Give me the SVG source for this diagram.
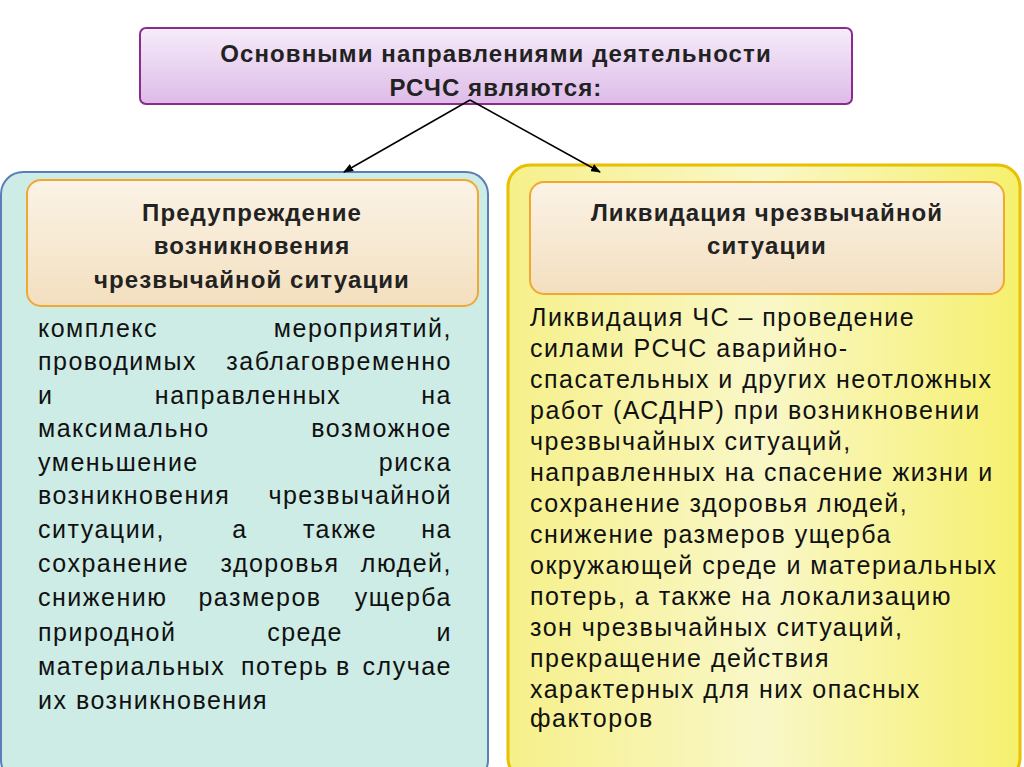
<svg xmlns="http://www.w3.org/2000/svg" width="1024" height="767" viewBox="0 0 1024 767">
<defs>
<linearGradient id="gp" x1="0" y1="0" x2="0" y2="1"><stop offset="0" stop-color="#f6ecfa"/><stop offset="1" stop-color="#ddbbe8"/></linearGradient>
<linearGradient id="gb" x1="0" y1="0" x2="0" y2="1"><stop offset="0" stop-color="#fbf3e6"/><stop offset="1" stop-color="#f3dfbf"/></linearGradient>
<linearGradient id="gy" x1="0" y1="0" x2="1" y2="0"><stop offset="0" stop-color="#f6f08a"/><stop offset="0.5" stop-color="#f9f7c8"/><stop offset="1" stop-color="#f6f06e"/></linearGradient>
<marker id="ar" markerWidth="10" markerHeight="8" refX="9" refY="4" orient="auto" markerUnits="userSpaceOnUse"><path d="M0,0 L10,4 L0,8 z" fill="#000"/></marker>
<style>
.h{font-family:"Liberation Sans",Arial,sans-serif;font-weight:bold;font-size:24px;letter-spacing:1.1px;fill:#222;text-anchor:middle}
.b{font-family:"Liberation Sans",Arial,sans-serif;font-size:25px;letter-spacing:1.5px;fill:#111}
.m{text-anchor:middle}.e{text-anchor:end}
</style>
</defs>
<rect width="1024" height="767" fill="#fff"/>
<g id="left-panel"><rect x="1" y="172" width="487" height="610" rx="22" fill="#cdece6" stroke="#5a7fb8" stroke-width="2"/></g>
<g id="right-panel"><rect x="508" y="165" width="512" height="615" rx="22" fill="url(#gy)" stroke="#e8c000" stroke-width="3"/></g>
<g id="top"><rect x="140" y="28" width="712" height="76" rx="6" fill="url(#gp)" stroke="#8a2c8a" stroke-width="2"/>
<text class="h" x="496" y="62">Основными направлениями деятельности</text>
<text class="h" x="496" y="96">РСЧС являются:</text></g>
<g id="connectors" stroke="#000" stroke-width="1.5" fill="none">
<line x1="470" y1="100" x2="344" y2="172" marker-end="url(#ar)"/>
<line x1="470" y1="100" x2="600" y2="172" marker-end="url(#ar)"/>
</g>
<g id="left-head"><rect x="27" y="180" width="451" height="126" rx="14" fill="url(#gb)" stroke="#f0a830" stroke-width="2"/>
<text class="h" x="252" y="221">Предупреждение</text>
<text class="h" x="252" y="254">возникновения</text>
<text class="h" x="252" y="288">чрезвычайной ситуации</text></g>
<g id="left-body">
<text class="b" x="38" y="337">комплекс</text><text class="b e" x="452" y="337">мероприятий,</text>
<text class="b" x="38" y="370">проводимых</text><text class="b e" x="452" y="370">заблаговременно</text>
<text class="b" x="38" y="404">и</text><text class="b m" x="248" y="404">направленных</text><text class="b e" x="452" y="404">на</text>
<text class="b" x="38" y="437">максимально</text><text class="b e" x="452" y="437">возможное</text>
<text class="b" x="38" y="471">уменьшение</text><text class="b e" x="452" y="471">риска</text>
<text class="b" x="38" y="504">возникновения</text><text class="b e" x="452" y="504">чрезвычайной</text>
<text class="b" x="38" y="538">ситуации,</text><text class="b m" x="240" y="538">а</text><text class="b m" x="340" y="538">также</text><text class="b e" x="452" y="538">на</text>
<text class="b" x="38" y="572">сохранение</text><text class="b m" x="280" y="572">здоровья</text><text class="b e" x="452" y="572">людей,</text>
<text class="b" x="38" y="606">снижению</text><text class="b m" x="260" y="606">размеров</text><text class="b e" x="452" y="606">ущерба</text>
<text class="b" x="38" y="641">природной</text><text class="b m" x="305" y="641">среде</text><text class="b e" x="452" y="641">и</text>
<text class="b" x="38" y="675">материальных</text><text class="b" x="241" y="675">потерь</text><text class="b" x="336" y="675">в</text><text class="b e" x="452" y="675">случае</text>
<text class="b" x="38" y="709">их возникновения</text>
</g>
<g id="right-head"><rect x="530" y="182" width="474" height="112" rx="14" fill="url(#gb)" stroke="#f0a830" stroke-width="2"/>
<text class="h" x="767" y="221">Ликвидация чрезвычайной</text>
<text class="h" x="767" y="254">ситуации</text></g>
<g id="right-body">
<text class="b" x="530" y="326">Ликвидация ЧС – проведение</text>
<text class="b" x="530" y="357">силами РСЧС аварийно-</text>
<text class="b" x="530" y="388">спасательных и других неотложных</text>
<text class="b" x="530" y="419">работ (АСДНР) при возникновении</text>
<text class="b" x="530" y="450">чрезвычайных ситуаций,</text>
<text class="b" x="530" y="481">направленных на спасение жизни и</text>
<text class="b" x="530" y="512">сохранение здоровья людей,</text>
<text class="b" x="530" y="543">снижение размеров ущерба</text>
<text class="b" x="530" y="574">окружающей среде и материальных</text>
<text class="b" x="530" y="605">потерь, а также на локализацию</text>
<text class="b" x="530" y="636">зон чрезвычайных ситуаций,</text>
<text class="b" x="530" y="667">прекращение действия</text>
<text class="b" x="530" y="698">характерных для них опасных</text>
<text class="b" x="530" y="727">факторов</text>
</g>
</svg>
